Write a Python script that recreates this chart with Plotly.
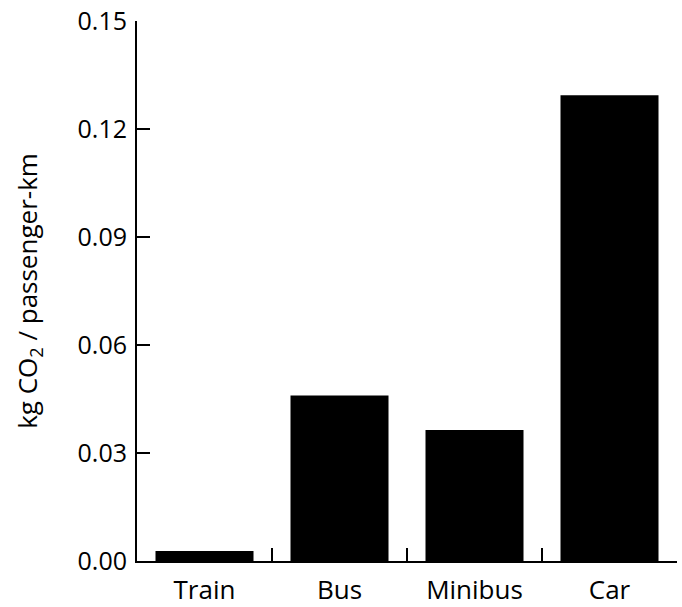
import plotly.graph_objects as go

categories = ["Train", "Bus", "Minibus", "Car"]
values = [0.0028, 0.0460, 0.0364, 0.1294]
y_ticks = [0.00, 0.03, 0.06, 0.09, 0.12, 0.15]
y_title = "kg CO<sub>2</sub> / passenger-km"

fig = go.Figure(go.Bar(x=categories, y=values, marker=dict(color="black", line=dict(width=0))))

fig.update_layout(
    width=682, height=607,
    margin=dict(l=137, r=5, t=21, b=46),
    paper_bgcolor="white", plot_bgcolor="white",
    font=dict(family="Open Sans", size=24, color="black"),
    bargap=0.274,
    showlegend=False,
)
fig.update_xaxes(
    showline=True, linecolor="black", linewidth=2,
    ticks="inside", ticklen=13, tickwidth=2, tickcolor="black",
    tickson="boundaries", showgrid=False, automargin=False,
    tickfont=dict(size=26), ticklabelstandoff=5,
)
fig.update_yaxes(
    range=[0, 0.15], tickvals=y_ticks, tickformat=".2f",
    showline=True, linecolor="black", linewidth=2,
    ticks="inside", ticklen=13, tickwidth=2, tickcolor="black",
    showgrid=False, zeroline=False, automargin=False,
    tickfont=dict(size=25), ticklabelstandoff=3,
    title=dict(text=y_title, font=dict(size=26), standoff=32),
)
fig.write_html(
    "out.html",
    config={"displayModeBar": False},
    post_script="document.body.style.margin='0';document.body.style.overflow='hidden';",
)
